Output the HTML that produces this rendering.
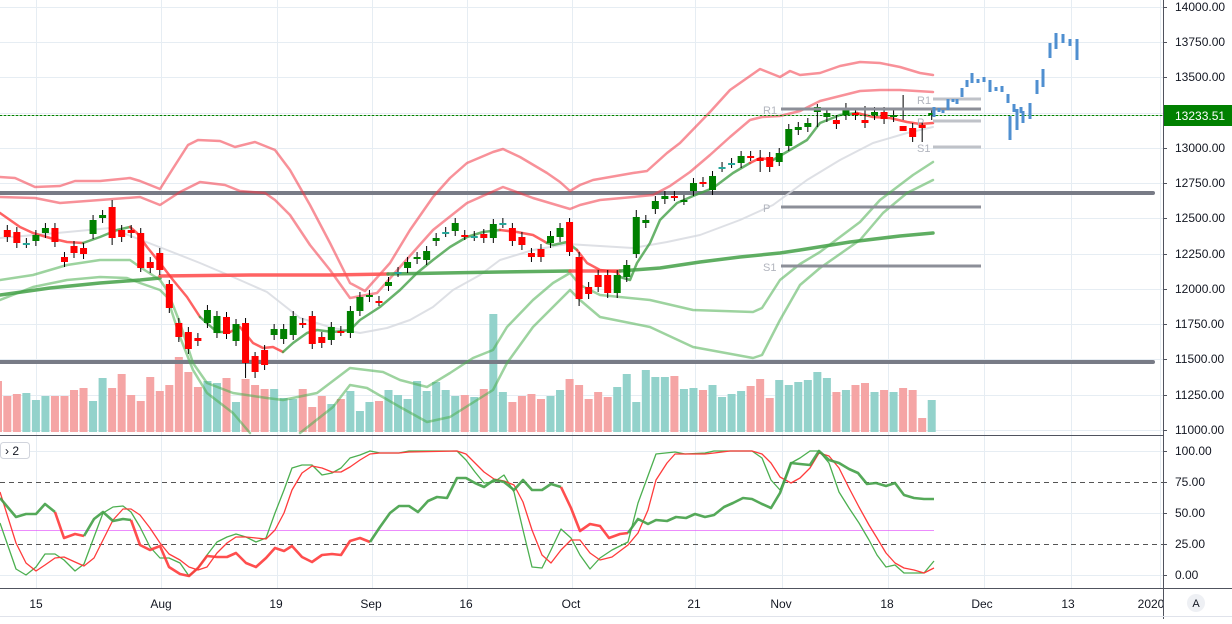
<!DOCTYPE html>
<html><head><meta charset="utf-8"><style>
html,body{margin:0;padding:0;background:#fff;}
body{width:1232px;height:619px;overflow:hidden;font-family:"Liberation Sans",sans-serif;}
svg text{font-family:"Liberation Sans",sans-serif;}
</style></head><body>
<svg id="s" width="1232" height="619" xmlns="http://www.w3.org/2000/svg">
<defs><clipPath id="cx"><rect x="0" y="590" width="1163" height="26"/></clipPath></defs>
<rect width="1232" height="619" fill="#fff"/>
<g id="grid" stroke="#e6edf3" stroke-width="1"></g>
<g id="vol"></g>
<g id="lines" fill="none" stroke-linejoin="round" stroke-linecap="round"></g>
<g id="cnd"></g>
<g id="piv"></g>
<g id="blue" fill="#4f8fd0"></g>
<g id="osc" fill="none" stroke-linejoin="round"></g>
<line x1="1163.5" y1="0" x2="1163.5" y2="619" stroke="#50535e"/>
<line x1="0" y1="435.5" x2="1163" y2="435.5" stroke="#50535e"/>
<line x1="0" y1="588.5" x2="1232" y2="588.5" stroke="#50535e"/>
<line x1="0" y1="616.5" x2="1232" y2="616.5" stroke="#e0e3eb"/>
<g font-size="12" fill="#131722">
<text x="1175" y="11">14000.00</text>
<text x="1175" y="46">13750.00</text>
<text x="1175" y="81">13500.00</text>
<text x="1175" y="152">13000.00</text>
<text x="1175" y="187">12750.00</text>
<text x="1175" y="222">12500.00</text>
<text x="1175" y="258">12250.00</text>
<text x="1175" y="293">12000.00</text>
<text x="1175" y="328">11750.00</text>
<text x="1175" y="363">11500.00</text>
<text x="1175" y="399">11250.00</text>
<text x="1175" y="434">11000.00</text>
<text x="1175" y="455">100.00</text>
<text x="1175" y="486">75.00</text>
<text x="1175" y="517">50.00</text>
<text x="1175" y="548">25.00</text>
<text x="1175" y="579">0.00</text>
</g>
<g stroke="#50535e">
<line x1="1163" y1="7.5" x2="1167" y2="7.5"/><line x1="1163" y1="42.5" x2="1167" y2="42.5"/><line x1="1163" y1="77.5" x2="1167" y2="77.5"/><line x1="1163" y1="148.5" x2="1167" y2="148.5"/><line x1="1163" y1="183.5" x2="1167" y2="183.5"/><line x1="1163" y1="218.5" x2="1167" y2="218.5"/><line x1="1163" y1="254.5" x2="1167" y2="254.5"/><line x1="1163" y1="289.5" x2="1167" y2="289.5"/><line x1="1163" y1="324.5" x2="1167" y2="324.5"/><line x1="1163" y1="359.5" x2="1167" y2="359.5"/><line x1="1163" y1="395.5" x2="1167" y2="395.5"/><line x1="1163" y1="430.5" x2="1167" y2="430.5"/>
<line x1="1163" y1="451.5" x2="1167" y2="451.5"/><line x1="1163" y1="482.5" x2="1167" y2="482.5"/><line x1="1163" y1="513.5" x2="1167" y2="513.5"/><line x1="1163" y1="544.5" x2="1167" y2="544.5"/><line x1="1163" y1="575.5" x2="1167" y2="575.5"/>
</g>
<rect x="1164" y="105" width="68" height="21" fill="#008000"/>
<text x="1175" y="120" font-size="12" fill="#fff">13233.51</text>
<g font-size="12" fill="#131722" text-anchor="middle" clip-path="url(#cx)">
<text x="36" y="608">15</text><text x="161" y="608">Aug</text><text x="276" y="608">19</text><text x="371" y="608">Sep</text><text x="466" y="608">16</text><text x="571" y="608">Oct</text><text x="694" y="608">21</text><text x="781" y="608">Nov</text><text x="887" y="608">18</text><text x="982" y="608">Dec</text><text x="1068" y="608">13</text><text x="1151" y="608">2020</text>
</g>
<circle cx="1196" cy="603" r="9" fill="#eef0f4"/>
<text x="1196" y="607" font-size="11" fill="#131722" text-anchor="middle">A</text>
<rect x="0.5" y="442.5" width="29" height="16" rx="3" fill="#fff" stroke="#d1d4dc"/>
<text x="5" y="455" font-size="12" fill="#131722">› 2</text>
</svg>
<script>
(function(){
var NS="http://www.w3.org/2000/svg";
function el(p,t,a){var e=document.createElementNS(NS,t);for(var k in a)e.setAttribute(k,a[k]);document.getElementById(p).appendChild(e);return e;}
var gy=[7,42,77,113,148,183,218,254,289,324,359,395,430];
gy.forEach(function(y){el("grid","line",{x1:0,x2:1163,y1:y+.5,y2:y+.5});});
[451,513,575].forEach(function(y){el("grid","line",{x1:0,x2:1163,y1:y+.5,y2:y+.5});});
[36,161,277,372,467,572,695,782,888,984,1071,1160].forEach(function(x){el("grid","line",{x1:x+.5,x2:x+.5,y1:0,y2:588});});
var C=[[230,237,'r'],[232,243,'r'],[243,243,'t'],[235,241,'g'],[228,233,'g'],[228,242,'r'],[257,262,'r'],[246,253,'r'],[248,254,'r'],[220,234,'g'],[215,218,'g'],[207,238,'r'],[230,237,'r'],[230,233,'r'],[233,268,'r'],[262,268,'r'],[253,270,'r'],[284,308,'r'],[323,337,'r'],[332,349,'r'],[338,341,'r'],[310,323,'g'],[316,333,'g'],[317,334,'r'],[324,341,'g'],[323,363,'r'],[356,372,'r'],[350,365,'r'],[329,335,'g'],[329,339,'g'],[316,335,'g'],
[323,323,'r'],[316,344,'r'],[337,343,'r'],[327,340,'g'],[331,331,'r'],[311,333,'g'],[297,311,'g'],[295,297,'g'],[301,301,'r'],[282,286,'g'],[272,272,'t'],[262,268,'g'],[257,259,'g'],[251,260,'g'],[238,241,'g'],[232,232,'t'],[223,231,'g'],[235,235,'r'],[236,236,'t'],[234,238,'r'],[224,238,'g'],[223,223,'t'],[228,241,'r'],[237,245,'r'],[253,257,'r'],[249,257,'r'],[236,243,'g'],[228,237,'g'],[222,252,'r'],[257,299,'r'],[287,294,'r'],[275,287,'r'],[275,293,'r'],[275,293,'g'],[265,277,'g'],[217,254,'g'],[220,223,'g'],[201,209,'g'],[196,199,'g'],[196,196,'r'],[200,200,'g'],[183,191,'g'],[182,182,'r'],[176,190,'g'],[167,167,'t'],[163,163,'t'],[156,163,'g'],[156,156,'r'],[158,161,'r'],[157,167,'r'],
[153,162,'g'],[129,146,'g'],[127,130,'g'],[123,127,'g'],[107,112,'g'],[113,117,'g'],[120,124,'r'],[108,115,'g'],[113,115,'r'],[120,123,'r'],[112,115,'g'],[112,119,'r'],[115,117,'g'],[126,131,'r'],[128,137,'r'],[125,128,'r'],[113,115,'g']];
var V=[396,394,393,400,396,396,396,390,388,401,378,388,374,395,401,377,391,385,357,372,387,381,383,378,402,379,385,389,389,398,399,389,407,396,404,399,391,411,402,401,390,395,399,381,391,382,390,396,395,397,389,314,392,402,396,394,399,396,390,379,385,399,392,397,387,374,402,370,377,377,376,389,388,390,385,397,394,391,386,379,398,380,385,382,380,372,378,392,390,385,383,392,390,392,388,390,418];
var wk={11:[200,245],14:[228,272],17:[280,313],25:[318,378],26:[352,378],59:[218,256],60:[252,306],66:[210,258],79:[150,172],81:[148,166],94:[95,120],93:[108,122],96:[122,142],90:[106,128],85:[104,127]};
for(var i=0;i<C.length;i++){
 var x=7.3+9.53*i,c=C[i],col=c[2]=='g'?'#008000':(c[2]=='t'?'#26a69a':'#ff0000');
 var vc=(c[2]=='r')?'#f5a5a5':'#93d2cb';
 var vt=V[i]||400; el("vol","rect",{x:x-4,y:vt,width:8,height:432-vt,fill:vc});
 var bt=Math.min(c[0],c[1]),bb=Math.max(c[0],c[1]);
 var w=wk[i]||[bt-5,bb+5];
 el("cnd","line",{x1:x,x2:x,y1:w[0],y2:w[1],stroke:'#000','stroke-width':1});
 el("cnd","rect",{x:x-3.5,y:bt,width:7,height:Math.max(bb-bt,2),fill:col});
}
el("vol","rect",{x:-6,y:381,width:8,height:51,fill:'#f5a5a5'});
function pl(g,pts,st,w,op){return el(g,"polyline",{points:pts,stroke:st,'stroke-width':w,'stroke-opacity':op});}
el("lines","line",{x1:0,x2:1153,y1:193,y2:193,stroke:'#787b86','stroke-width':4});
el("lines","line",{x1:0,x2:1153,y1:362,y2:362,stroke:'#787b86','stroke-width':4});
pl("lines","0,238 57,233 110,228 167,250 200,263 233,277 267,292 300,318 333,328 360,333 387,328 410,320 433,307 453,290 480,275 500,260 533,250 567,244 600,246 633,248 667,242 700,235 740,220 773,205 807,180 840,160 873,143 907,133 933,127",'#d6d8de',2,0.8);
pl("lines","0,177 15,178 35,187 60,186 75,181 100,181 130,178 140,181 160,189 172,170 188,145 198,140 220,141 235,147 255,142 265,146 275,150 290,170 310,205 330,243 350,283 365,291 390,263 410,230 433,197 450,178 467,163 493,152 503,149 520,157 547,173 560,182 570,191 580,185 593,180 633,173 647,171 667,153 680,143 710,112 730,90 760,69 780,77 790,71 800,75 820,73 840,66 860,62 880,63 900,67 920,73 933,75",'#f23645',2.5,0.55);
pl("lines","0,197 35,198 60,203 100,200 140,197 160,205 180,192 200,182 225,185 240,191 265,193 275,200 290,215 310,245 330,270 350,298 377,293 400,267 433,230 467,203 503,187 533,198 570,209 580,205 600,200 633,197 653,195 670,186 690,172 710,155 730,137 750,120 762,117 780,116 800,111 820,101 840,96 860,91 880,90 900,90 933,92",'#f23645',2.5,0.55);
pl("lines","0,280 33,275 67,265 100,260 130,260 140,267 160,280 167,290 180,323 193,363 207,383 233,393 267,398 283,400 317,393 350,368 383,372 400,380 427,387 450,373 473,358 493,350 507,327 533,300 553,283 570,273 580,285 600,295 650,300 693,310 753,312 762,308 780,280 800,264 820,252 860,222 880,200 913,175 933,162",'#4caf50',2.5,0.55);
pl("lines","0,300 33,287 67,280 100,277 127,278 140,283 160,290 167,297 180,337 193,370 207,393 233,413 250,433",'#4caf50',2.5,0.55);
pl("lines","300,433 333,407 350,385 367,388 400,407 427,422 450,417 493,390 507,363 533,327 553,307 570,290 580,300 600,317 650,327 693,347 753,358 762,355 780,320 800,285 820,268 860,240 883,213 907,193 933,180",'#4caf50',2.5,0.55);
pl("lines","0,295 50,288 100,283 140,280 160,278",'#43a047',3.5,0.85);
pl("lines","160,276 250,275 330,275 388,274",'#ff5252',3.5,0.9);
pl("lines","388,274 500,272 570,271",'#43a047',3.5,0.85);
pl("lines","570,271 620,271",'#ff5252',3.5,0.9);
pl("lines","620,271 660,268 700,262 740,257 780,253 800,250 850,242 900,236 933,233",'#43a047',3.5,0.85);
pl("lines","0,213 20,227 33,233 50,238 67,242 83,243",'#ff3b3b',2.5,0.8);
pl("lines","83,243 100,237 117,230 130,227",'#43a047',2.5,0.8);
pl("lines","130,227 137,233 147,247 160,263 173,280 187,297 200,317",'#ff3b3b',2.5,0.8);
pl("lines","200,317 217,332 230,332",'#43a047',2.5,0.8);
pl("lines","230,332 240,327 253,343 263,348 273,347 283,352",'#ff3b3b',2.5,0.8);
pl("lines","283,352 293,343 307,333 317,330 333,332 350,330 360,320 380,307 400,290 417,273 433,260 450,247 467,237 483,232 500,230",'#43a047',2.5,0.8);
pl("lines","500,230 517,232 533,235 547,243",'#ff3b3b',2.5,0.8);
pl("lines","547,243 553,245 567,242 577,250",'#43a047',2.5,0.8);
pl("lines","577,250 587,263 600,270 617,272 620,277",'#ff3b3b',2.5,0.8);
pl("lines","620,277 630,280 637,263 650,243 660,220 677,203 693,196 713,188 733,173 750,163",'#43a047',2.5,0.8);
pl("lines","750,163 760,158 773,160",'#ff3b3b',2.5,0.8);
pl("lines","773,160 807,140 820,123 840,115 857,113",'#43a047',2.5,0.8);
pl("lines","857,113 873,117 890,118 907,122 920,124 933,123",'#ff3b3b',2.5,0.8);
el("lines","line",{x1:0,x2:1163,y1:115.5,y2:115.5,stroke:'#008000','stroke-width':1,'stroke-dasharray':'2,2'});
[[109,781],[207,781],[266,781]].forEach(function(p){el("piv","line",{x1:p[1],x2:981,y1:p[0],y2:p[0],stroke:'#8c8f98','stroke-width':3});});
[[99,933],[121,933],[147,933]].forEach(function(p){el("piv","line",{x1:p[1],x2:981,y1:p[0],y2:p[0],stroke:'#bfc2c8','stroke-width':3});});
var lab=[[763,114,'R1'],[763,212,'P'],[763,271,'S1'],[917,104,'R1'],[917,126,'P'],[917,152,'S1']];
lab.forEach(function(l){var t=el("piv","text",{x:l[0],y:l[1],'font-size':11,fill:'#b2b5be'});t.textContent=l[2];});
var B=[[934,107,117],[939,108,112],[943,110,113],[948,99,110],[953,99,102],[957,99,104],[962,88,97],[967,80,87],[972,73,83],[978,79,83],[984,77,82],[990,80,92],[996,87,91],[1002,86,92],[1008,94,103],[1010,116,140],[1014,104,112],[1017,109,130],[1021,107,113],[1023,111,123],[1030,103,119],[1037,80,94],[1043,69,87],[1050,43,58],[1056,33,49],[1063,34,43],[1070,39,46],[1077,39,60]];
B.forEach(function(b){el("blue","rect",{x:b[0]-1.5,y:b[1],width:3,height:b[2]-b[1]});});
el("osc","line",{x1:0,x2:1163,y1:482.5,y2:482.5,stroke:'#555','stroke-dasharray':'5,4'});
el("osc","line",{x1:0,x2:1163,y1:544.5,y2:544.5,stroke:'#555','stroke-dasharray':'5,4'});
el("osc","line",{x1:0,x2:934,y1:530.5,y2:530.5,stroke:'#e040fb','stroke-opacity':0.6});
pl("osc","0,523 16,569 26,575 36,567 45,554 55,554 64,560 75,571 84,564 94,537 103,513 113,507 123,506 131,512 140,527 150,547 160,558 169,558 180,563 189,576 198,568 207,555 217,542 227,537 236,534 246,537 256,542 266,538 275,513 284,490 292,468 302,465 312,465 322,475 332,473 341,468 350,458 360,455 370,451 380,453 390,453 399,453 409,451 457,451 466,460 475,472 484,483 494,482 504,475 514,492 523,530 532,567 542,568 551,550 561,529 571,538 580,555 590,569 600,558 612,550 628,542 638,503 656,454 675,452 685,454 705,453 714,451 752,451 762,458 771,480 780,490 791,463 800,458 810,451 819,451 829,463 839,492 849,508 859,523 869,540 877,555 886,567 895,565 904,573 924,573 934,561",'#4caf50',1.3,1);
pl("osc","0,492 16,543 26,563 36,571 45,565 55,558 64,557 75,562 84,566 94,558 103,540 113,520 123,509 131,509 140,515 150,528 160,543 169,554 180,560 189,567 198,570 207,567 217,553 227,543 236,537 246,537 256,538 266,539 275,530 284,513 292,490 302,473 312,466 322,468 332,472 341,472 350,467 360,460 370,454 380,453 399,453 409,452 457,451 466,454 475,463 484,472 494,479 504,481 514,485 523,502 532,530 542,555 551,563 561,550 571,540 580,540 590,553 600,560 612,557 628,545 638,533 648,510 656,480 667,463 675,454 705,454 714,453 730,451 752,451 762,454 771,463 780,477 791,483 800,478 810,468 819,453 829,456 839,468 849,488 859,507 869,525 877,538 886,553 895,563 904,568 914,570 924,573 934,568",'#ff3b3b',1.3,1);
var T=[[0,498],[16,517],[26,514],[36,514],[45,504],[55,512],[64,538],[75,534],[84,536],[94,519],[103,512],[113,521],[123,519],[131,520],[140,545],[150,550],[160,546],[169,567],[180,574],[189,576],[198,568],[207,556],[217,557],[227,557],[236,553],[246,563],[256,567],[266,558],[275,548],[284,551],[292,546],[302,557],[312,562],[322,555],[332,554],[341,555],[350,541],[360,538],[370,542],[380,527],[390,513],[399,506],[409,506],[418,512],[428,501],[437,497],[447,498],[457,478],[466,478],[475,483],[484,487],[494,480],[504,482],[514,490],[523,480],[532,490],[542,490],[551,484],[561,487],[571,508],[580,531],[590,524],[600,526],[609,538],[620,534],[628,533],[638,519],[648,524],[656,520],[667,521],[676,517],[686,518],[695,514],[705,517],[714,515],[724,507],[733,503],[743,498],[752,499],[762,504],[771,508],[780,493],[791,463],[800,464],[810,465],[819,451],[829,460],[839,463],[849,469],[858,473],[867,484],[876,483],[886,486],[895,483],[904,495],[914,498],[924,499],[934,499]];
function seg(a,b,col){var s=[];T.forEach(function(p){if(p[0]>=a&&p[0]<=b)s.push(p.join(","));});pl("osc",s.join(" "),col,2.6,0.9);}
seg(0,55,'#43a047');seg(55,84,'#ff3b3b');seg(84,131,'#43a047');seg(131,370,'#ff3b3b');seg(370,561,'#43a047');seg(561,628,'#ff3b3b');seg(628,934,'#43a047');
})();
</script>
</body></html>
